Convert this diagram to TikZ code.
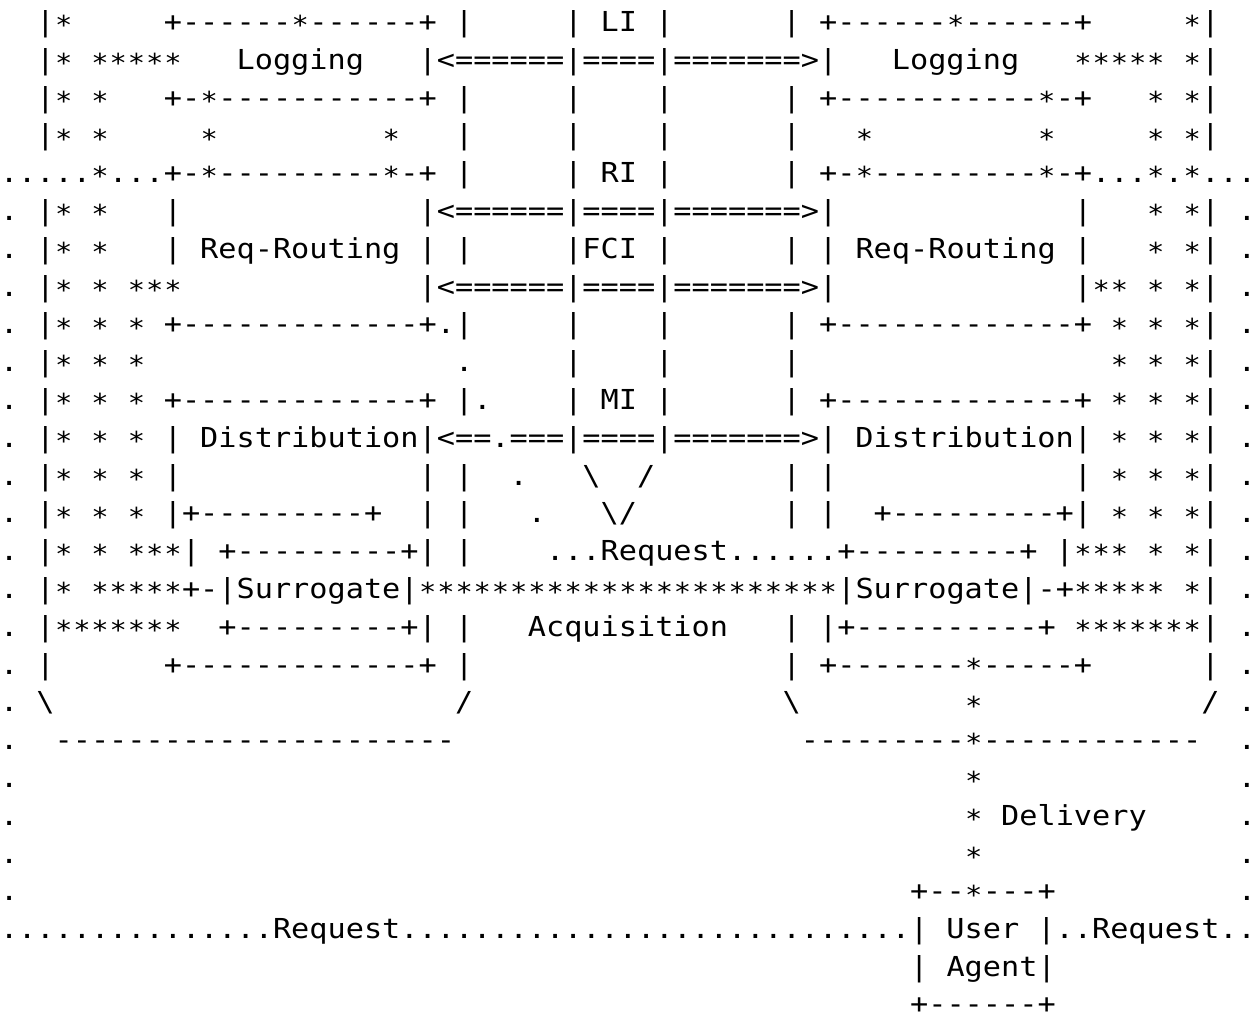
\documentclass[tikz,border=0pt]{standalone}
\usepackage{graphicx}
\usepackage{fontspec}
\setmonofont[FakeStretch=1.1]{DejaVu Sans Mono}
\ExplSyntaxOn
\cs_new:Npn \Rep #1#2 { \prg_replicate:nn {#1} {#2} }
\ExplSyntaxOff
\newcommand\sk[1]{\kern#1\fontcharwd\font`0\relax}
\newcommand\bs{\textbackslash}
\newcommand\st{\makebox[\fontcharwd\font`0][c]{\raisebox{-1.6pt}{\scalebox{0.95}{*}}}}
\tikzset{ln/.style={anchor=base west, inner sep=0pt, outer sep=0pt,
  font=\ttfamily\fontsize{13.743pt}{18.9pt}\selectfont}}
\begin{document}
\begin{tikzpicture}[x=0.5pt,y=-0.5pt]
\fill[white] (0,0) rectangle (1256,1015);
\useasboundingbox (0,0) rectangle (1256,1015);
\node[ln] (l1) at (0,31.5) {\sk{2}|\st\sk{5}+\Rep{6}{-}\st\Rep{6}{-}+\sk{1}|\sk{5}|\sk{1}LI\sk{1}|\sk{6}|\sk{1}+\Rep{6}{-}\st\Rep{6}{-}+\sk{5}\st|};
\node[ln] (l2) at (0,69.3) {\sk{2}|\st\sk{1}\Rep{5}{\st}\sk{3}Logging\sk{3}|<\Rep{6}{=}|\Rep{4}{=}|\Rep{7}{=}>|\sk{3}Logging\sk{3}\Rep{5}{\st}\sk{1}\st|};
\node[ln] (l3) at (0,107.1) {\sk{2}|\st\sk{1}\st\sk{3}+-\st\Rep{11}{-}+\sk{1}|\sk{5}|\sk{4}|\sk{6}|\sk{1}+\Rep{11}{-}\st-+\sk{3}\st\sk{1}\st|};
\node[ln] (l4) at (0,144.9) {\sk{2}|\st\sk{1}\st\sk{5}\st\sk{9}\st\sk{3}|\sk{5}|\sk{4}|\sk{6}|\sk{3}\st\sk{9}\st\sk{5}\st\sk{1}\st|};
\node[ln] (l5) at (0,182.7) {\Rep{5}{.}\st...+-\st\Rep{9}{-}\st-+\sk{1}|\sk{5}|\sk{1}RI\sk{1}|\sk{6}|\sk{1}+-\st\Rep{9}{-}\st-+...\st.\st...};
\node[ln] (l6) at (0,220.5) {.\sk{1}|\st\sk{1}\st\sk{3}|\sk{13}|<\Rep{6}{=}|\Rep{4}{=}|\Rep{7}{=}>|\sk{13}|\sk{3}\st\sk{1}\st|\sk{1}.};
\node[ln] (l7) at (0,258.3) {.\sk{1}|\st\sk{1}\st\sk{3}|\sk{1}Req-Routing\sk{1}|\sk{1}|\sk{5}|FCI\sk{1}|\sk{6}|\sk{1}|\sk{1}Req-Routing\sk{1}|\sk{3}\st\sk{1}\st|\sk{1}.};
\node[ln] (l8) at (0,296.1) {.\sk{1}|\st\sk{1}\st\sk{1}\Rep{3}{\st}\sk{13}|<\Rep{6}{=}|\Rep{4}{=}|\Rep{7}{=}>|\sk{13}|\st\st\sk{1}\st\sk{1}\st|\sk{1}.};
\node[ln] (l9) at (0,333.9) {.\sk{1}|\st\sk{1}\st\sk{1}\st\sk{1}+\Rep{13}{-}+.|\sk{5}|\sk{4}|\sk{6}|\sk{1}+\Rep{13}{-}+\sk{1}\st\sk{1}\st\sk{1}\st|\sk{1}.};
\node[ln] (l10) at (0,371.7) {.\sk{1}|\st\sk{1}\st\sk{1}\st\sk{17}.\sk{5}|\sk{4}|\sk{6}|\sk{17}\st\sk{1}\st\sk{1}\st|\sk{1}.};
\node[ln] (l11) at (0,409.5) {.\sk{1}|\st\sk{1}\st\sk{1}\st\sk{1}+\Rep{13}{-}+\sk{1}|.\sk{4}|\sk{1}MI\sk{1}|\sk{6}|\sk{1}+\Rep{13}{-}+\sk{1}\st\sk{1}\st\sk{1}\st|\sk{1}.};
\node[ln] (l12) at (0,447.3) {.\sk{1}|\st\sk{1}\st\sk{1}\st\sk{1}|\sk{1}Distribution|<==.===|\Rep{4}{=}|\Rep{7}{=}>|\sk{1}Distribution|\sk{1}\st\sk{1}\st\sk{1}\st|\sk{1}.};
\node[ln] (l13) at (0,485.1) {.\sk{1}|\st\sk{1}\st\sk{1}\st\sk{1}|\sk{13}|\sk{1}|\sk{2}.\sk{3}\bs\sk{2}/\sk{7}|\sk{1}|\sk{13}|\sk{1}\st\sk{1}\st\sk{1}\st|\sk{1}.};
\node[ln] (l14) at (0,522.9) {.\sk{1}|\st\sk{1}\st\sk{1}\st\sk{1}|+\Rep{9}{-}+\sk{2}|\sk{1}|\sk{3}.\sk{3}\bs/\sk{8}|\sk{1}|\sk{2}+\Rep{9}{-}+|\sk{1}\st\sk{1}\st\sk{1}\st|\sk{1}.};
\node[ln] (l15) at (0,560.7) {.\sk{1}|\st\sk{1}\st\sk{1}\Rep{3}{\st}|\sk{1}+\Rep{9}{-}+|\sk{1}|\sk{4}...Request\Rep{6}{.}+\Rep{9}{-}+\sk{1}|\Rep{3}{\st}\sk{1}\st\sk{1}\st|\sk{1}.};
\node[ln] (l16) at (0,598.5) {.\sk{1}|\st\sk{1}\Rep{5}{\st}+-|Surrogate|\Rep{23}{\st}|Surrogate|-+\Rep{5}{\st}\sk{1}\st|\sk{1}.};
\node[ln] (l17) at (0,636.3) {.\sk{1}|\Rep{7}{\st}\sk{2}+\Rep{9}{-}+|\sk{1}|\sk{3}Acquisition\sk{3}|\sk{1}|+\Rep{10}{-}+\sk{1}\Rep{7}{\st}|\sk{1}.};
\node[ln] (l18) at (0,674.1) {.\sk{1}|\sk{6}+\Rep{13}{-}+\sk{1}|\sk{17}|\sk{1}+\Rep{7}{-}\st\Rep{5}{-}+\sk{6}|\sk{1}.};
\node[ln] (l19) at (0,711.9) {.\sk{1}\bs\sk{22}/\sk{17}\bs\sk{9}\st\sk{12}/\sk{1}.};
\node[ln] (l20) at (0,749.7) {.\sk{2}\Rep{22}{-}\sk{19}\Rep{9}{-}\st\Rep{12}{-}\sk{2}.};
\node[ln] (l21) at (0,787.5) {.\sk{52}\st\sk{14}.};
\node[ln] (l22) at (0,825.3) {.\sk{52}\st\sk{1}Delivery\sk{5}.};
\node[ln] (l23) at (0,863.1) {.\sk{52}\st\sk{14}.};
\node[ln] (l24) at (0,900.9) {.\sk{49}+--\st---+\sk{10}.};
\node[ln] (l25) at (0,938.7) {\Rep{15}{.}Request\Rep{28}{.}|\sk{1}User\sk{1}|..Request..};
\node[ln] (l26) at (0,976.5) {\sk{50}|\sk{1}Agent|};
\node[ln] (l27) at (0,1013.3) {\sk{50}+\Rep{6}{-}+};
\end{tikzpicture}
\end{document}
